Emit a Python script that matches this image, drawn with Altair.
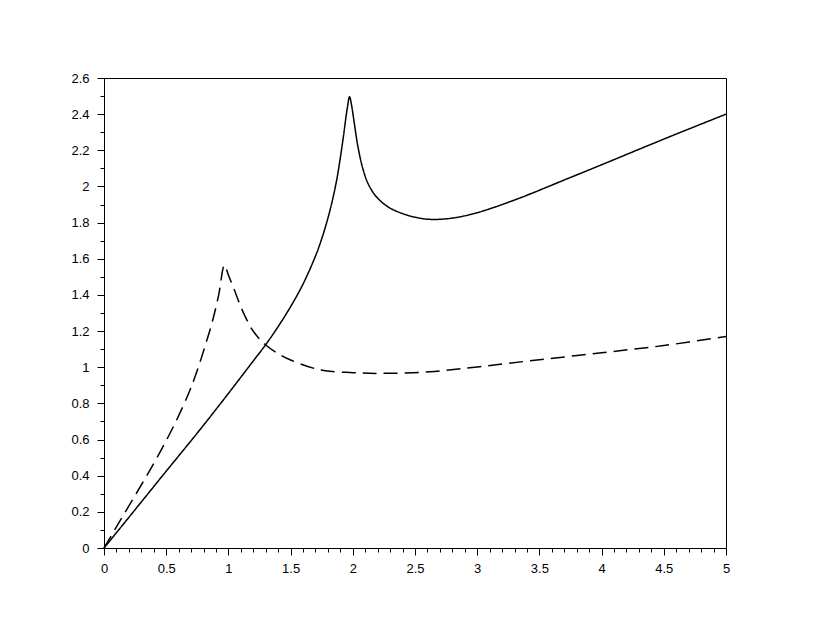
import altair as alt
import pandas as pd

# Solid curve
solid_x = [0, 0.25, 0.5, 0.75, 1.0, 1.2, 1.3, 1.4, 1.5, 1.6, 1.7, 1.75, 1.8, 1.84, 1.873, 1.9,
           1.926, 1.955, 1.974, 1.99, 2.01, 2.04, 2.08, 2.12, 2.17, 2.23, 2.3, 2.4, 2.5, 2.62,
           2.8, 3.0, 3.3, 3.75, 4.0, 4.5, 5.0]
solid_y = [0, 0.212, 0.425, 0.636, 0.855, 1.035, 1.125, 1.225, 1.335, 1.46, 1.615, 1.71, 1.825,
           1.935, 2.045, 2.16, 2.284, 2.43, 2.496, 2.45, 2.36, 2.225, 2.10, 2.02, 1.96, 1.915,
           1.88, 1.85, 1.83, 1.818, 1.825, 1.855, 1.925, 2.05, 2.12, 2.262, 2.40]

# Dashed curve
dashed_x = [0, 0.133, 0.4, 0.55, 0.68, 0.75, 0.815, 0.87, 0.922, 0.968, 1.0, 1.043, 1.123,
            1.203, 1.30, 1.42, 1.5, 1.74, 2.0, 2.22, 2.62, 3.02, 3.48, 4.0, 4.5, 5.0]
dashed_y = [0, 0.155, 0.468, 0.661, 0.855, 0.983, 1.123, 1.25, 1.40, 1.565, 1.51, 1.436, 1.298,
            1.196, 1.123, 1.067, 1.04, 0.985, 0.97, 0.966, 0.975, 1.003, 1.04, 1.08, 1.12, 1.17]

x_major = [0, 0.5, 1, 1.5, 2, 2.5, 3, 3.5, 4, 4.5, 5]
y_major = [0, 0.2, 0.4, 0.6, 0.8, 1, 1.2, 1.4, 1.6, 1.8, 2, 2.2, 2.4, 2.6]
x_minor = [round(i * 0.1, 1) for i in range(51)]
y_minor = [round(i * 0.1, 1) for i in range(27)]

df = pd.concat([
    pd.DataFrame({"x": solid_x, "y": solid_y, "series": "solid"}),
    pd.DataFrame({"x": dashed_x, "y": dashed_y, "series": "dashed"}),
])

xscale = alt.Scale(domain=[0, 5], nice=False, zero=False)
yscale = alt.Scale(domain=[0, 2.6], nice=False, zero=False)

lines = alt.Chart(df).mark_line(color="black", strokeWidth=1.5, interpolate="catmull-rom").encode(
    x=alt.X("x:Q", scale=xscale, title=None,
            axis=alt.Axis(values=x_major, tickSize=7, labelPadding=7, format="~g",
                          orient="bottom", labelFlush=False)),
    y=alt.Y("y:Q", scale=yscale, title=None,
            axis=alt.Axis(values=y_major, tickSize=7, labelPadding=8, format="~g",
                          orient="left", labelFlush=False)),
    strokeDash=alt.StrokeDash("series:N",
                              scale=alt.Scale(domain=["solid", "dashed"], range=[[1, 0], [14, 7]]),
                              legend=None),
    detail="series:N",
)

minor = alt.Chart(df).mark_point(opacity=0).encode(
    x=alt.X("x:Q", scale=xscale, title=None,
            axis=alt.Axis(values=x_minor, tickSize=4, labels=False, domain=False, orient="bottom")),
    y=alt.Y("y:Q", scale=yscale, title=None,
            axis=alt.Axis(values=y_minor, tickSize=4, labels=False, domain=False, orient="left")),
)

chart = alt.layer(lines, minor).resolve_axis(x="independent", y="independent").properties(
    width=622,
    height=470,
    autosize=alt.AutoSizeParams(type="none"),
    padding={"left": 96, "top": 70, "right": 90, "bottom": 60},
).configure_view(
    stroke="black", strokeWidth=1
).configure_axis(
    grid=False,
    domainColor="black",
    domainWidth=1,
    tickColor="black",
    tickWidth=1,
    labelColor="black",
    labelFont="Liberation Sans",
    labelFontSize=13,
)

chart.save("out.html", embed_options={"renderer": "svg", "actions": False})
